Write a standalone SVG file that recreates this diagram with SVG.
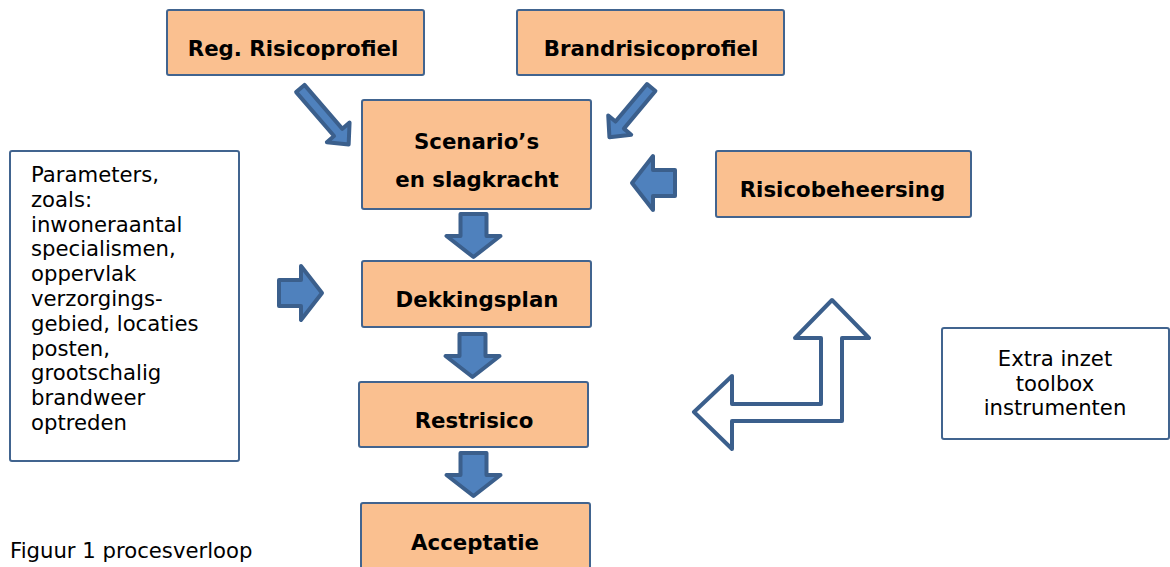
<svg xmlns="http://www.w3.org/2000/svg" width="1170" height="567" viewBox="0 0 1170 567">
<defs>
<style>
.box{fill:#FAC090;stroke:#41648F;stroke-width:2}
.wbox{fill:#FFFFFF;stroke:#41648F;stroke-width:2}
.b{font-family:"DejaVu Sans",Verdana,sans-serif;font-weight:bold;font-size:21.3px;fill:#000;text-anchor:middle}
.r{font-family:"DejaVu Sans",Verdana,sans-serif;font-size:21.2px;fill:#000}
.arr{fill:#4F81BD;stroke:#3B5F8C;stroke-width:4;stroke-linejoin:round}
.hol{fill:#FFFFFF;stroke:#3B5F8C;stroke-width:4;stroke-linejoin:round}
</style>
<path id="big" d="M2,-13 L24,-13 L24,-27 L45,0 L24,27 L24,13 L2,13 Z"/>
</defs>
<rect width="1170" height="567" fill="#FFFFFF"/>
<g id="connectors">
<path class="arr" transform="translate(299,87) rotate(49.2)" d="M2,-5.5 L60,-5.5 L60,-15 L76,0 L60,15 L60,5.5 L2,5.5 Z"/>
<path class="arr" transform="translate(652.5,86) rotate(130)" d="M2,-5.5 L51,-5.5 L51,-15 L67,0 L51,15 L51,5.5 L2,5.5 Z"/>
<use href="#big" class="arr" transform="translate(473.5,212) rotate(90)"/>
<use href="#big" class="arr" transform="translate(472.5,332) rotate(90)"/>
<use href="#big" class="arr" transform="translate(473.5,451) rotate(90)"/>
<use href="#big" class="arr" transform="translate(277,293)"/>
<use href="#big" class="arr" transform="translate(677,183) rotate(180)"/>
<path class="hol" d="M694,412 L732,376 L732,404 L821,404 L821,338 L795,338 L832,300 L869,338 L842,338 L842,421 L732,421 L732,449 Z"/>
</g>
<g id="reg">
<rect class="box" x="167" y="10" width="257" height="65" rx="2"/>
<text class="b" x="293" y="56">Reg. Risicoprofiel</text>
</g>
<g id="brand">
<rect class="box" x="517" y="10" width="267" height="65" rx="2"/>
<text class="b" x="651" y="56">Brandrisicoprofiel</text>
</g>
<g id="scenario">
<rect class="box" x="362" y="100" width="229" height="109" rx="2"/>
<text class="b" x="476.5" y="149">Scenario’s</text>
<text class="b" x="477" y="187">en slagkracht</text>
</g>
<g id="risicobeheersing">
<rect class="box" x="716" y="151" width="255" height="66" rx="2"/>
<text class="b" x="842.5" y="197">Risicobeheersing</text>
</g>
<g id="parameters">
<rect class="wbox" x="10" y="151" width="229" height="310" rx="2"/>
<text class="r" x="31" y="182">Parameters,</text>
<text class="r" x="31" y="206.8">zoals:</text>
<text class="r" x="31" y="231.6">inwoneraantal</text>
<text class="r" x="31" y="256.4">specialismen,</text>
<text class="r" x="31" y="281.2">oppervlak</text>
<text class="r" x="31" y="306">verzorgings-</text>
<text class="r" x="31" y="330.8">gebied, locaties</text>
<text class="r" x="31" y="355.6">posten,</text>
<text class="r" x="31" y="380.4">grootschalig</text>
<text class="r" x="31" y="405.2">brandweer</text>
<text class="r" x="31" y="430">optreden</text>
</g>
<g id="dekkingsplan">
<rect class="box" x="362" y="261" width="229" height="66" rx="2"/>
<text class="b" x="477" y="307">Dekkingsplan</text>
</g>
<g id="restrisico">
<rect class="box" x="359" y="382" width="229" height="65" rx="2"/>
<text class="b" x="474" y="428">Restrisico</text>
</g>
<g id="acceptatie">
<rect class="box" x="361" y="503" width="229" height="80" rx="2"/>
<text class="b" x="475" y="550">Acceptatie</text>
</g>
<g id="extra">
<rect class="wbox" x="942" y="328" width="227" height="111" rx="2"/>
<text class="r" x="1055" y="366" text-anchor="middle">Extra inzet</text>
<text class="r" x="1055" y="390.5" text-anchor="middle">toolbox</text>
<text class="r" x="1055" y="415" text-anchor="middle">instrumenten</text>
</g>
<g id="caption">
<text class="r" x="10" y="558">Figuur 1 procesverloop</text>
</g>
</svg>
